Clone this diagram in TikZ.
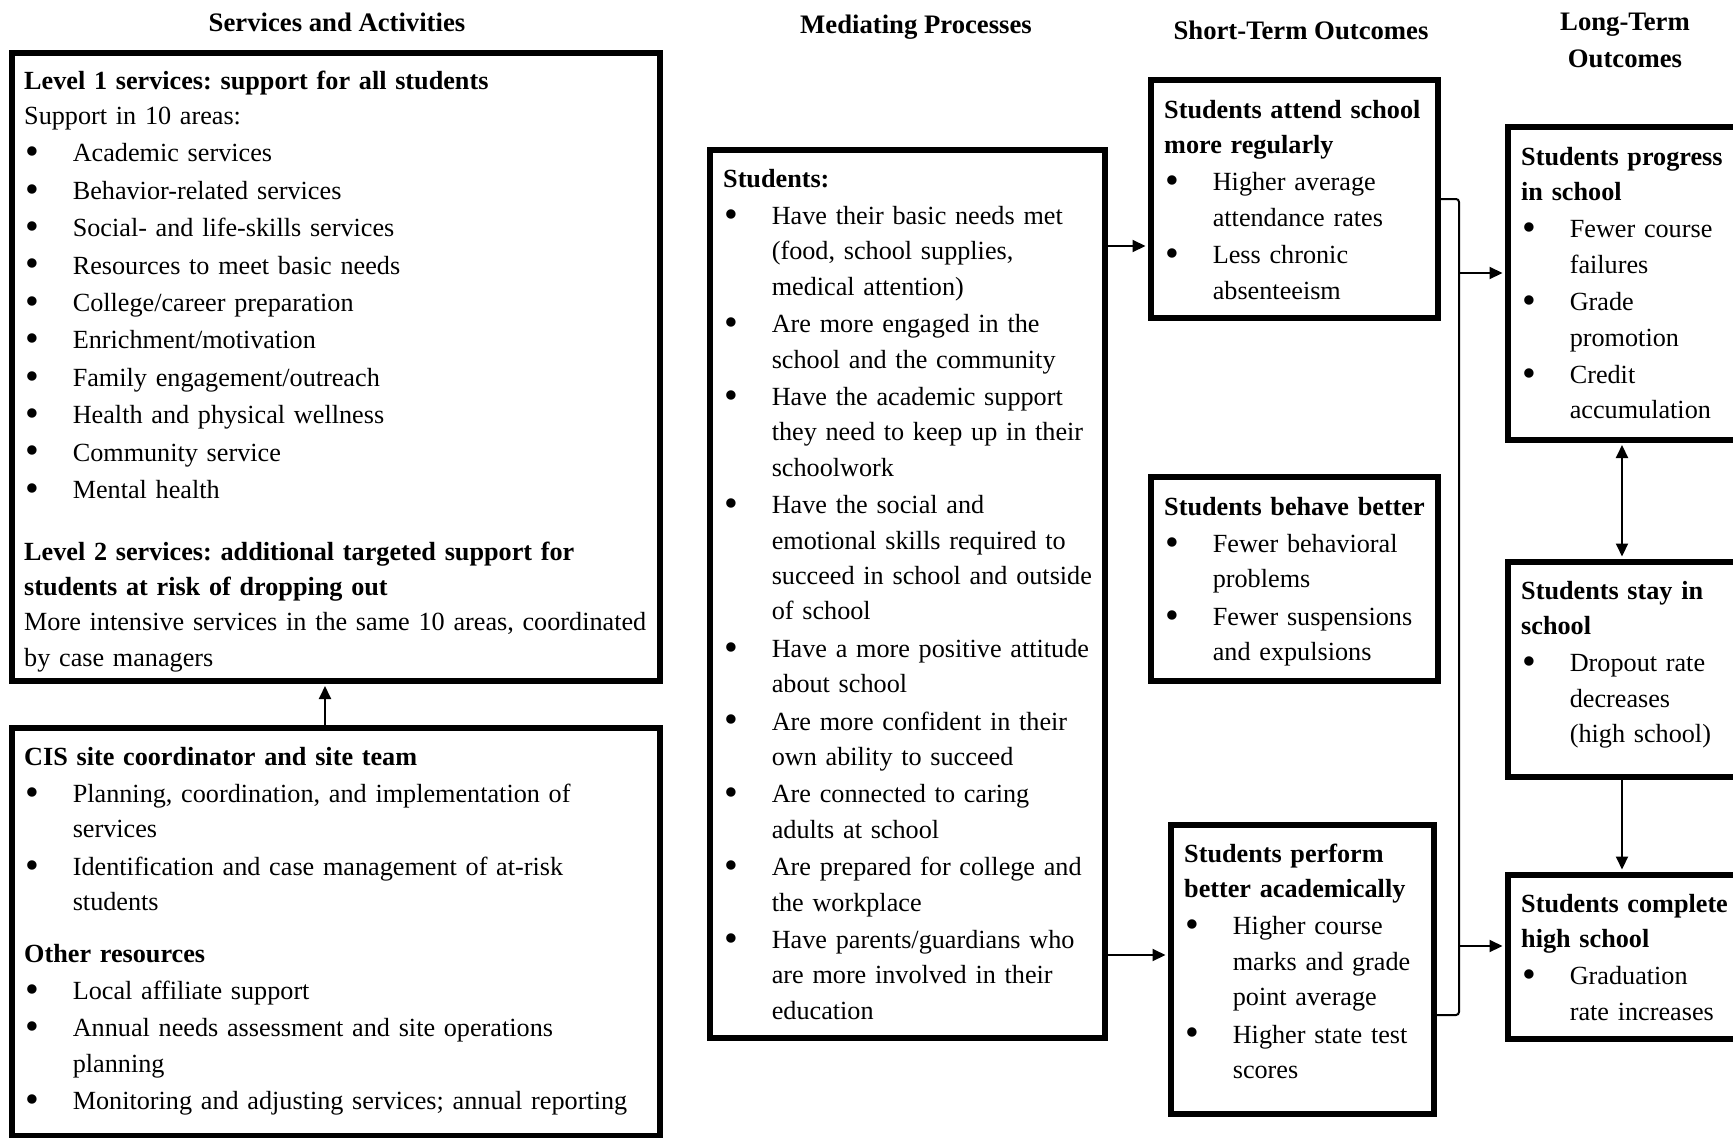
\documentclass[tikz,border=0pt]{standalone}
\usepackage{fontspec}
\setmainfont{Liberation Serif}
\usetikzlibrary{arrows.meta,calc}
\frenchspacing
\hyphenpenalty=10000
\exhyphenpenalty=10000

\newcommand{\bul}{\makebox[48.6pt][l]{\hspace{1pt}\raisebox{-2.8pt}{\scalebox{1.5}{\textbullet}}}}
\newcommand{\itm}[1]{\par\vspace{2pt}\hangindent=48.6pt\hangafter=1\noindent\bul#1\par}

\tikzset{
  box/.style={draw=black, line width=5.5pt, rectangle, inner sep=0pt, anchor=north west},
  txt/.style={anchor=base west, inner sep=0pt, text width=#1, align=left,
    font=\fontsize{26.2}{35.4}\selectfont},
  hdr/.style={font=\fontsize{26.7}{37}\selectfont\bfseries, align=center, inner sep=0pt},
  conn/.style={line width=2pt, shorten >=2.5pt, -{Triangle[length=13pt,width=12pt]}},
  dconn/.style={line width=2pt, shorten >=2.5pt, shorten <=2.5pt,
    {Triangle[length=13pt,width=12pt]}-{Triangle[length=13pt,width=12pt]}},
  brk/.style={line width=2pt, rounded corners=3pt},
}

\begin{document}
\begin{tikzpicture}[x=1pt, y=-1pt]
\useasboundingbox (0,0) rectangle (1733,1138);
\clip (0,0) rectangle (1733,1138);

% headers
\node[hdr] (h1) at (337,22) {Services and Activities};
\node[hdr] (h2) at (916,27) {Mediating Processes};
\node[hdr] (h3) at (1301,30) {Short-Term Outcomes};
\node[hdr] (h4) at (1625,40) {Long-Term\\Outcomes};

% boxes
\node[box, minimum width=648pt, minimum height=628pt] (A) at (9,50) {};
\node[box, minimum width=648pt, minimum height=408pt] (B) at (9,725) {};
\node[box, minimum width=395pt, minimum height=888pt] (M) at (707,147) {};
\node[box, minimum width=287pt, minimum height=238pt] (S1) at (1148,77) {};
\node[box, minimum width=287pt, minimum height=204pt] (S2) at (1148,474) {};
\node[box, minimum width=263pt, minimum height=289pt] (S3) at (1168,822) {};
\node[box, minimum width=300pt, minimum height=313pt] (L1) at (1505,124) {};
\node[box, minimum width=300pt, minimum height=215pt] (L2) at (1505,559) {};
\node[box, minimum width=300pt, minimum height=164pt] (L3) at (1505,872) {};

% texts
\node[txt=640pt] (A1) at (24,89) {\textbf{Level 1 services: support for all students}\par
Support in 10 areas:
\itm{Academic services}
\itm{Behavior-related services}
\itm{Social- and life-skills services}
\itm{Resources to meet basic needs}
\itm{College/career preparation}
\itm{Enrichment/motivation}
\itm{Family engagement/outreach}
\itm{Health and physical wellness}
\itm{Community service}
\itm{Mental health}};

\node[txt=640pt] (A2) at (24,560) {\textbf{Level 2 services: additional targeted support for\newline students at risk of dropping out}\par
More intensive services in the same 10 areas, coordinated\newline by case managers\par};

\node[txt=640pt] (B1) at (24,765) {\textbf{CIS site coordinator and site team}
\itm{Planning, coordination, and implementation of\newline services}
\itm{Identification and case management of at-risk\newline students}};

\node[txt=640pt] (B2) at (24,962) {\textbf{Other resources}
\itm{Local affiliate support}
\itm{Annual needs assessment and site operations\newline planning}
\itm{Monitoring and adjusting services; annual reporting}};

\node[txt=385pt] (Mt) at (723,187) {\textbf{Students:}
\itm{Have their basic needs met\newline (food, school supplies,\newline medical attention)}
\itm{Are more engaged in the\newline school and the community}
\itm{Have the academic support\newline they need to keep up in their\newline schoolwork}
\itm{Have the social and\newline emotional skills required to\newline succeed in school and outside\newline of school}
\itm{Have a more positive attitude\newline about school}
\itm{Are more confident in their\newline own ability to succeed}
\itm{Are connected to caring\newline adults at school}
\itm{Are prepared for college and\newline the workplace}
\itm{Have parents/guardians who\newline are more involved in their\newline education}};

\node[txt=280pt] (S1t) at (1164,118) {\textbf{Students attend school\newline more regularly}
\itm{Higher average\newline attendance rates}
\itm{Less chronic\newline absenteeism}};

\node[txt=280pt] (S2t) at (1164,515) {\textbf{Students behave better}
\itm{Fewer behavioral\newline problems}
\itm{Fewer suspensions\newline and expulsions}};

\node[txt=260pt] (S3t) at (1184,862) {\textbf{Students perform\newline better academically}
\itm{Higher course\newline marks and grade\newline point average}
\itm{Higher state test\newline scores}};

\node[txt=260pt] (L1t) at (1521,165) {\textbf{Students progress\newline in school}
\itm{Fewer course\newline failures}
\itm{Grade\newline promotion}
\itm{Credit\newline accumulation}};

\node[txt=260pt] (L2t) at (1521,599) {\textbf{Students stay in\newline school}
\itm{Dropout rate\newline decreases\newline (high school)}};

\node[txt=260pt] (L3t) at (1521,912) {\textbf{Students complete\newline high school}
\itm{Graduation\newline rate increases}};

% connectors
\draw[conn] (325,0 |- B.north) -- (325,0 |- A.south);
\draw[conn] (M.east |- 0,246) -- (S1.west |- 0,246);
\draw[conn] (M.east |- 0,955) -- (S3.west |- 0,955);
\draw[brk] (S1.east |- 0,199) -- (1459,199) -- (1459,1015) -- (S3.east |- 0,1015);
\coordinate (b1) at (1459,273);
\coordinate (b3) at (1459,946);
\draw[conn] (b1) -- (L1.west |- b1);
\draw[conn] (b3) -- (L3.west |- b3);
\draw[dconn] (1622,0 |- L1.south) -- (1622,0 |- L2.north);
\draw[conn] (1622,0 |- L2.south) -- (1622,0 |- L3.north);
\end{tikzpicture}
\end{document}
